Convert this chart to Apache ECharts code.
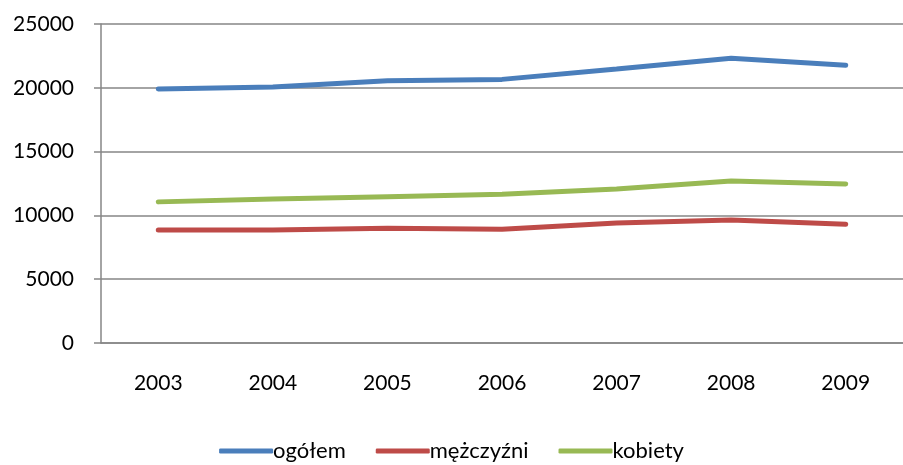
<!DOCTYPE html>
<html>
<head>
<meta charset="utf-8">
<script src="https://cdn.jsdelivr.net/npm/echarts@6/dist/echarts.min.js"></script>
<style>
  html, body { margin: 0; padding: 0; background: #fff; }
  #chart { width: 903px; height: 465px; }
</style>
</head>
<body>
<div id="chart"></div>
<script>
const years = ['2003', '2004', '2005', '2006', '2007', '2008', '2009'];
const ogolem = [19900, 20070, 20560, 20660, 21470, 22310, 21760];
const mezczyzni = [8860, 8860, 9000, 8920, 9400, 9640, 9300];
const kobiety = [11060, 11290, 11470, 11650, 12070, 12700, 12460];

const axisGray = '#868686';
const font = 'Lato, "Open Sans", sans-serif';

const chart = echarts.init(document.getElementById('chart'));

function line(name, data, color) {
  return {
    name: name,
    type: 'line',
    data: data,
    symbol: 'none',
    lineStyle: { color: color, width: 5, cap: 'round' },
    itemStyle: { color: color },
  };
}

chart.setOption({
  animation: false,
  textStyle: { fontFamily: font },
  grid: { left: 101, top: 24, width: 810, height: 319 },
  legend: {
    bottom: -2,
    left: 'center',
    icon: 'roundRect',
    itemWidth: 54,
    itemHeight: 5,
    itemGap: 30,
    textStyle: { fontSize: 22, color: '#000', fontFamily: font, padding: [0, 0, 0, -5] },
    data: ['ogółem', 'mężczyźni', 'kobiety'],
  },
  xAxis: {
    type: 'category',
    data: years,
    boundaryGap: true,
    axisLine: { lineStyle: { color: axisGray, width: 1.5 } },
    axisTick: { length: 8, lineStyle: { color: axisGray, width: 1.5 } },
    axisLabel: { fontSize: 21, color: '#000', margin: 30 },
  },
  yAxis: {
    type: 'value',
    min: 0,
    max: 25000,
    interval: 5000,
    axisLine: { show: true, lineStyle: { color: axisGray, width: 1.5 } },
    axisTick: { show: true, length: 7, lineStyle: { color: axisGray, width: 1.5 } },
    splitLine: { lineStyle: { color: axisGray, width: 1.5 } },
    axisLabel: { fontSize: 21, color: '#000', margin: 27, formatter: v => String(v) },
  },
  series: [
    line('ogółem', ogolem, '#4a7ebb'),
    line('mężczyźni', mezczyzni, '#be4b48'),
    line('kobiety', kobiety, '#98b954'),
  ],
});
</script>
</body>
</html>
